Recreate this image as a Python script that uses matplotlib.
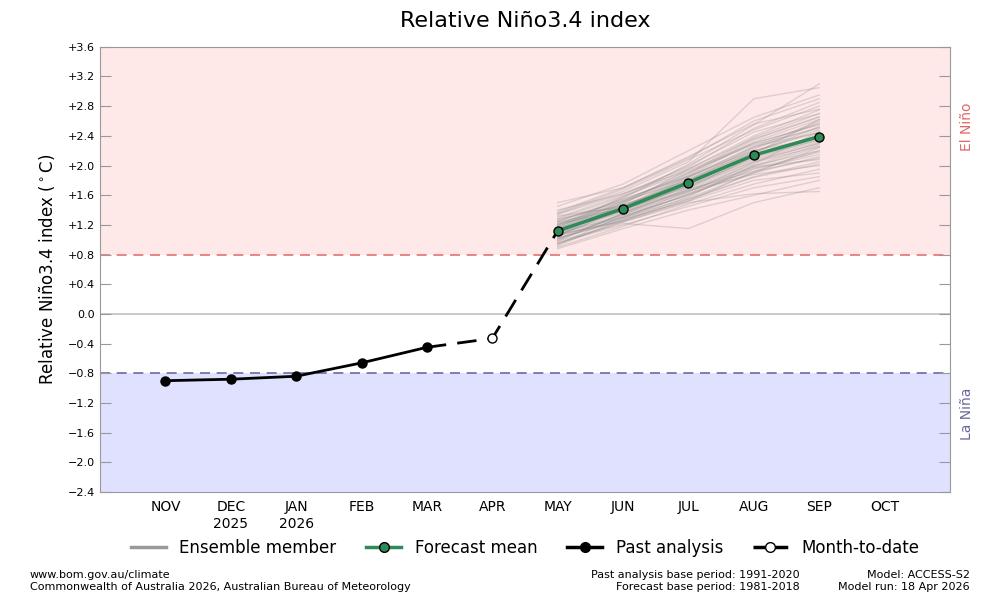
import matplotlib
matplotlib.use('Agg')
import matplotlib.pyplot as plt
from matplotlib.lines import Line2D

# months, NOV 2025 .. OCT 2026
months = ['NOV', 'DEC\n2025', 'JAN\n2026', 'FEB', 'MAR', 'APR',
          'MAY', 'JUN', 'JUL', 'AUG', 'SEP', 'OCT']

# past analysis NOV..MAR
past_x = [0, 1, 2, 3, 4]
past_y = [-0.90, -0.88, -0.84, -0.66, -0.45]

# month-to-date (APR) and link to first forecast month
mtd_x = [4, 5, 6]
mtd_y = [-0.45, -0.33, 1.12]

# forecast mean MAY..SEP
fc_x = [6, 7, 8, 9, 10]
fc_mean = [1.12, 1.42, 1.77, 2.14, 2.39]

# ensemble members MAY..SEP
ensemble = [
    [1.05, 1.30, 1.62, 1.98, 2.25], [1.20, 1.52, 1.90, 2.30, 2.55],
    [0.95, 1.25, 1.55, 1.85, 2.05], [1.30, 1.60, 2.00, 2.45, 2.70],
    [1.10, 1.40, 1.72, 2.10, 2.35], [1.15, 1.45, 1.80, 2.20, 2.45],
    [1.50, 1.70, 2.10, 2.60, 2.90], [0.90, 1.18, 1.48, 1.75, 1.95],
    [1.25, 1.55, 1.85, 2.25, 2.60], [1.00, 1.35, 1.70, 2.05, 2.30],
    [1.18, 1.48, 1.95, 2.40, 2.75], [1.08, 1.32, 1.60, 1.95, 2.15],
    [1.35, 1.65, 2.05, 2.90, 3.05], [0.98, 1.22, 1.15, 1.50, 1.70],
    [1.12, 1.42, 1.78, 2.15, 2.40], [1.22, 1.38, 1.65, 2.00, 2.20],
    [1.05, 1.50, 1.88, 2.35, 2.65], [0.92, 1.28, 1.52, 1.80, 1.90],
    [1.28, 1.58, 1.92, 2.28, 2.50], [1.14, 1.36, 1.68, 1.92, 2.10],
    [1.02, 1.26, 1.58, 2.00, 2.28], [1.40, 1.62, 1.98, 2.50, 2.85],
    [1.16, 1.46, 1.82, 2.18, 2.48], [0.96, 1.20, 1.45, 1.70, 1.85],
    [1.24, 1.54, 1.86, 2.32, 2.62], [1.06, 1.40, 1.74, 2.08, 2.32],
    [1.32, 1.44, 1.70, 2.12, 2.42], [1.10, 1.34, 1.64, 2.04, 2.26],
    [1.20, 1.56, 2.02, 2.55, 3.10], [1.00, 1.30, 1.66, 1.88, 2.00],
    [1.18, 1.50, 1.84, 2.22, 2.58], [1.08, 1.24, 1.50, 1.62, 1.65],
    [1.26, 1.52, 1.90, 2.38, 2.70], [1.12, 1.38, 1.76, 2.14, 2.36],
    [0.94, 1.32, 1.60, 1.96, 2.18], [1.36, 1.68, 2.08, 2.48, 2.80],
    [1.04, 1.44, 1.80, 2.24, 2.52], [1.22, 1.48, 1.72, 2.06, 2.30],
    [1.14, 1.40, 1.84, 2.26, 2.44], [1.02, 1.28, 1.62, 1.90, 2.12],
    [1.45, 1.75, 2.20, 2.65, 2.95], [0.88, 1.15, 1.40, 1.60, 1.80],
    [1.16, 1.58, 1.96, 2.36, 2.66], [1.06, 1.26, 1.54, 1.84, 2.02],
    [1.28, 1.46, 1.78, 2.18, 2.52], [0.98, 1.36, 1.74, 2.12, 2.34],
    [1.34, 1.62, 1.94, 2.30, 2.56], [1.10, 1.30, 1.56, 1.90, 2.24],
    [1.20, 1.44, 1.86, 2.20, 2.38], [1.02, 1.34, 1.68, 2.02, 2.46],
    [1.38, 1.70, 2.12, 2.56, 2.76], [0.94, 1.24, 1.52, 1.92, 2.20],
    [1.14, 1.52, 1.80, 2.16, 2.62], [1.24, 1.42, 1.66, 1.98, 2.08],
]

yticks = [-2.4, -2.0, -1.6, -1.2, -0.8, -0.4, 0.0, 0.4, 0.8, 1.2, 1.6,
          2.0, 2.4, 2.8, 3.2, 3.6]

def fmt(v):
    if abs(v) < 1e-9:
        return '0.0'
    return ('+%.1f' % v) if v > 0 else ('\u2212%.1f' % abs(v))

fig = plt.figure(figsize=(10, 6), dpi=100)
ax = fig.add_axes([0.10, 0.18, 0.85, 0.742])
ax.set_xlim(-1, 12)
ax.set_ylim(-2.4, 3.6)

# shaded ENSO zones
ax.axhspan(0.8, 3.6, color='#ffe8e8', zorder=0, lw=0)
ax.axhspan(-2.4, -0.8, color='#e0e0ff', zorder=0, lw=0)
ax.axhline(0.8, color='#e87070', ls=(0, (6, 4)), lw=1.2, zorder=1)
ax.axhline(-0.8, color='#6a6aa8', ls=(0, (6, 4)), lw=1.2, zorder=1)
ax.axhline(0.0, color='#c0c0c0', lw=1.2, zorder=1)

# ensemble
for m in ensemble:
    ax.plot(fc_x, m, color='#8a8a8a', alpha=0.28, lw=1, zorder=2)

# month-to-date dashed
ax.plot(mtd_x, mtd_y, color='black', lw=2, ls=(0, (7, 4)), zorder=3)
ax.plot([5], [mtd_y[1]], 'o', ms=6.5, mfc='white', mec='black', mew=1, zorder=5)

# past analysis
ax.plot(past_x, past_y, color='black', lw=2, marker='o', ms=6.5, zorder=4)

# forecast mean
ax.plot(fc_x, fc_mean, color='#2e8b57', lw=2.5, marker='o', ms=6.5,
        mfc='#2e8b57', mec='black', mew=1, zorder=5)

ax.set_xticks(range(12))
ax.set_xticklabels(months, fontsize=10)
ax.set_yticks(yticks)
ax.set_yticklabels([fmt(v) for v in yticks], fontsize=8)
ax.tick_params(axis='x', length=0, pad=6)
ax.tick_params(axis='y', direction='in', length=8, color='#999999',
               right=True, left=True)
for s in ax.spines.values():
    s.set_color('#999999')

ax.set_ylabel('Relative Niño3.4 index ($^\\circ$C)', fontsize=12, labelpad=8)
ax.set_title('Relative Niño3.4 index', fontsize=16, pad=14)

ax.text(1.02, 0.82, 'El Niño', transform=ax.transAxes, rotation=90,
        color='#e06868', fontsize=10, ha='center', va='center')
ax.text(1.02, 0.175, 'La Niña', transform=ax.transAxes, rotation=90,
        color='#6a6a9a', fontsize=10, ha='center', va='center')

handles = [
    Line2D([], [], color='#999999', lw=2.5),
    Line2D([], [], color='#2e8b57', lw=2.5, marker='o', ms=7,
           mfc='#2e8b57', mec='black'),
    Line2D([], [], color='black', lw=2.5, marker='o', ms=7),
    Line2D([], [], color='black', lw=2.5, ls=(0, (4, 2)), marker='o', ms=7,
           mfc='white', mec='black'),
]
labels = ['Ensemble member', 'Forecast mean', 'Past analysis', 'Month-to-date']
fig.legend(handles, labels, loc='center', bbox_to_anchor=(0.525, 0.087),
           ncol=4, frameon=False, fontsize=12, handlelength=2.1,
           columnspacing=1.8)

fig.text(0.03, 0.037, 'www.bom.gov.au/climate', fontsize=8)
fig.text(0.03, 0.017, 'Commonwealth of Australia 2026, Australian Bureau of Meteorology',
         fontsize=8)
fig.text(0.80, 0.037, 'Past analysis base period: 1991-2020', fontsize=8, ha='right')
fig.text(0.80, 0.017, 'Forecast base period: 1981-2018', fontsize=8, ha='right')
fig.text(0.97, 0.037, 'Model: ACCESS-S2', fontsize=8, ha='right')
fig.text(0.97, 0.017, 'Model run: 18 Apr 2026', fontsize=8, ha='right')

plt.savefig('out.png', dpi=100)
